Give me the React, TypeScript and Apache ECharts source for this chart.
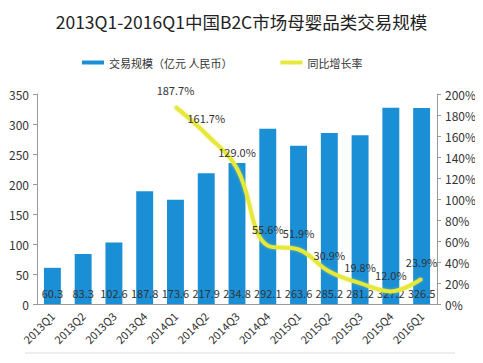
import React, { useEffect, useRef } from "react";
import * as echarts from "echarts";

const categories = ["2013Q1","2013Q2","2013Q3","2013Q4","2014Q1","2014Q2","2014Q3","2014Q4","2015Q1","2015Q2","2015Q3","2015Q4","2016Q1"];
const volume = [60.3, 83.3, 102.6, 187.8, 173.6, 217.9, 234.8, 292.1, 263.6, 285.2, 281.2, 327.2, 326.5];
const growth: (number | string)[] = ["-", "-", "-", "-", 187.7, 161.7, 129.0, 55.6, 51.9, 30.9, 19.8, 12.0, 23.9];

const FONT = "'Noto Sans CJK SC', 'Noto Sans', sans-serif";

export default function App() {
  const ref = useRef<HTMLDivElement>(null);
  useEffect(() => {
    const chart = echarts.init(ref.current!, null, { renderer: "svg" });
    chart.setOption({
      animation: false,
      backgroundColor: "#fff",
      textStyle: { fontFamily: FONT },
      title: {
        text: "2013Q1-2016Q1中国B2C市场母婴品类交易规模",
        left: "center",
        top: 8,
        textStyle: { fontSize: 17.5, fontWeight: "normal", color: "#222", fontFamily: FONT },
      },
      legend: {
        left: 77,
        top: 52,
        itemWidth: 22,
        itemHeight: 4,
        itemGap: 48,
        textStyle: { fontSize: 11, color: "#333" },
        data: [
          { name: "交易规模（亿元 人民币）", icon: "rect" },
          { name: "同比增长率", icon: "rect" },
        ],
      },
      grid: { left: 37, right: 46, top: 94, bottom: 59 },
      xAxis: {
        type: "category",
        data: categories,
        axisLine: { lineStyle: { color: "#999" } },
        axisTick: { show: false },
        axisLabel: { rotate: 45, fontSize: 11, color: "#333", margin: 10 },
      },
      yAxis: [
        {
          type: "value",
          min: 0,
          max: 350,
          interval: 50,
          axisLine: { show: true, lineStyle: { color: "#999" } },
          axisTick: { show: true, length: 4, lineStyle: { color: "#999" } },
          splitLine: { show: false },
          axisLabel: { fontSize: 12, color: "#333", margin: 8 },
        },
        {
          type: "value",
          min: 0,
          max: 200,
          interval: 20,
          axisLine: { show: true, lineStyle: { color: "#999" } },
          axisTick: { show: true, length: 4, lineStyle: { color: "#999" } },
          splitLine: { show: false },
          axisLabel: { fontSize: 12, color: "#333", margin: 8, formatter: "{value}%" },
        },
      ],
      series: [
        {
          name: "交易规模（亿元 人民币）",
          type: "bar",
          data: volume,
          barWidth: "55%",
          itemStyle: { color: "#1a8fd6" },
          label: {
            show: true,
            position: "insideBottom",
            distance: 6,
            fontSize: 11,
            color: "#333",
            formatter: (p: any) => Number(p.value).toFixed(1),
          },
        },
        {
          name: "同比增长率",
          type: "line",
          yAxisIndex: 1,
          data: growth,
          smooth: 0.4,
          symbol: "circle",
          symbolSize: 2,
          showSymbol: true,
          z: 3,
          lineStyle: { color: "#e6e83a", width: 4, shadowColor: "rgba(230,232,58,0.5)", shadowBlur: 3 },
          itemStyle: { color: "#e6e83a" },
          label: {
            show: true,
            position: "top",
            distance: 10,
            fontSize: 11,
            color: "#333",
            formatter: (p: any) => (typeof p.value === "number" ? p.value.toFixed(1) + "%" : ""),
          },
        },
      ],
      graphic: [
        { type: "line", shape: { x1: 25, y1: 353, x2: 455, y2: 353 }, style: { stroke: "#ddd", lineWidth: 1 } },
      ],
    });
    return () => chart.dispose();
  }, []);
  return <div ref={ref} style={{ width: 483, height: 363, margin: -8 }} />;
}
